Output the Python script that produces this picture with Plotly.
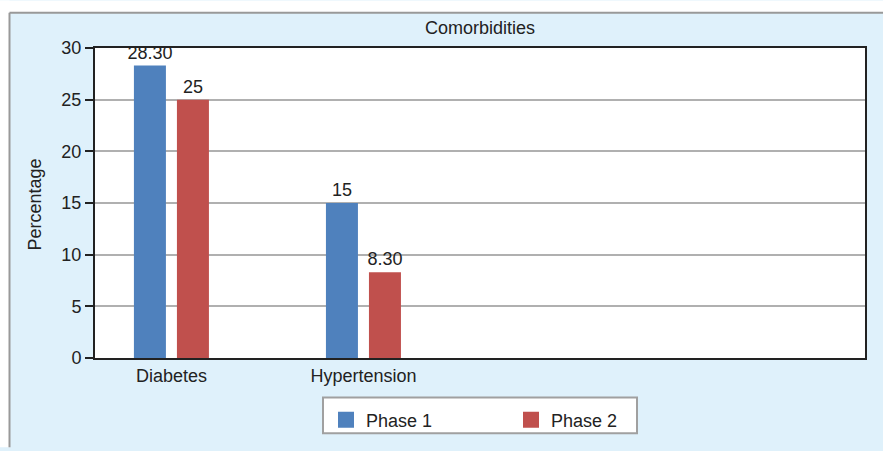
import plotly.graph_objects as go

categories = ["Diabetes", "Hypertension"]
phase1 = [28.3, 15]
phase2 = [25, 8.3]
phase1_labels = ["28.30", "15"]
phase2_labels = ["25", "8.30"]
series_names = ["Phase 1", "Phase 2"]
y_ticks = [0, 5, 10, 15, 20, 25, 30]

BLUE = "#4f81bd"
RED = "#c0504d"
BG = "#dff1fb"
FONT = "Liberation Sans, Arial, sans-serif"
FS = 18

W, H = 883, 451
L, R, T, B = 95, 18, 48, 90
pw, ph = W - L - R, H - T - B

def px(X):
    return (X - L) / pw

def py(Y):
    return (H - B - Y) / ph

fig = go.Figure()
for vals, labs, col, name in [(phase1, phase1_labels, BLUE, series_names[0]),
                              (phase2, phase2_labels, RED, series_names[1])]:
    fig.add_trace(go.Bar(x=categories, y=vals, text=labs, textposition="outside",
                         constraintext="none",
                         textfont=dict(size=FS, color="#222", family=FONT),
                         marker=dict(color=col, line=dict(width=0)),
                         cliponaxis=False, showlegend=False, name=name))
for col, name in [(BLUE, series_names[0]), (RED, series_names[1])]:
    fig.add_trace(go.Scatter(x=[None], y=[None], mode="markers", name=name,
                             marker=dict(symbol="square", size=22, color=col)))

shapes = [
    dict(type="rect", xref="paper", yref="paper", x0=px(0), x1=px(9.5), y0=py(H), y1=py(0),
         fillcolor="white", line=dict(width=0), layer="below"),
    dict(type="rect", xref="paper", yref="paper", x0=px(0), x1=px(W), y0=py(12.5), y1=py(0),
         fillcolor="white", line=dict(width=0), layer="below"),
    dict(type="line", xref="paper", yref="paper", x0=px(9.5), x1=px(9.5), y0=py(H), y1=py(12.5),
         line=dict(color="#999999", width=2)),
    dict(type="line", xref="paper", yref="paper", x0=px(9.5), x1=px(W), y0=py(12.5), y1=py(12.5),
         line=dict(color="#999999", width=2)),
    # legend box
    dict(type="rect", xref="paper", yref="paper", x0=px(323), x1=px(637), y0=py(437), y1=py(401),
         fillcolor="white", line=dict(color="#a0a0a0", width=2), layer="below"),
]

fig.update_layout(
    width=W, height=H,
    margin=dict(l=L, r=R, t=T, b=B),
    paper_bgcolor=BG, plot_bgcolor="white",
    font=dict(family=FONT, size=FS, color="#222"),
    barmode="group", bargap=0.552, bargroupgap=0.256,
    shapes=shapes,
    annotations=[
        dict(text="Comorbidities", xref="paper", yref="paper", x=0.5, y=py(28),
             showarrow=False, xanchor="center", yanchor="middle", font=dict(size=FS)),
        dict(text="Percentage", xref="paper", yref="paper", x=px(35), y=py(206),
             showarrow=False, textangle=-90, xanchor="center", yanchor="middle",
             font=dict(size=FS)),
    ],
    legend=dict(orientation="h", x=px(326), xanchor="left", y=py(405), yanchor="top",
                bgcolor="rgba(0,0,0,0)", borderwidth=0,
                font=dict(size=FS), entrywidth=140, entrywidthmode="pixels",
                itemsizing="trace"),
)
fig.update_xaxes(range=[-0.398, 3.612], showgrid=False, showline=True, linecolor="#222",
                 linewidth=2, mirror=True, ticks="", tickfont=dict(size=FS))
fig.update_yaxes(range=[0, 30], tickvals=y_ticks, showgrid=True, gridcolor="#b0b0b0",
                 gridwidth=1.5, showline=True, linecolor="#222", linewidth=2, mirror=True,
                 ticks="outside", ticklen=8, tickcolor="#222", tickwidth=1.5,
                 tickfont=dict(size=FS), zeroline=False)

fig.write_html("out.html", config={"displayModeBar": False},
               post_script="document.body.style.margin='0';")
